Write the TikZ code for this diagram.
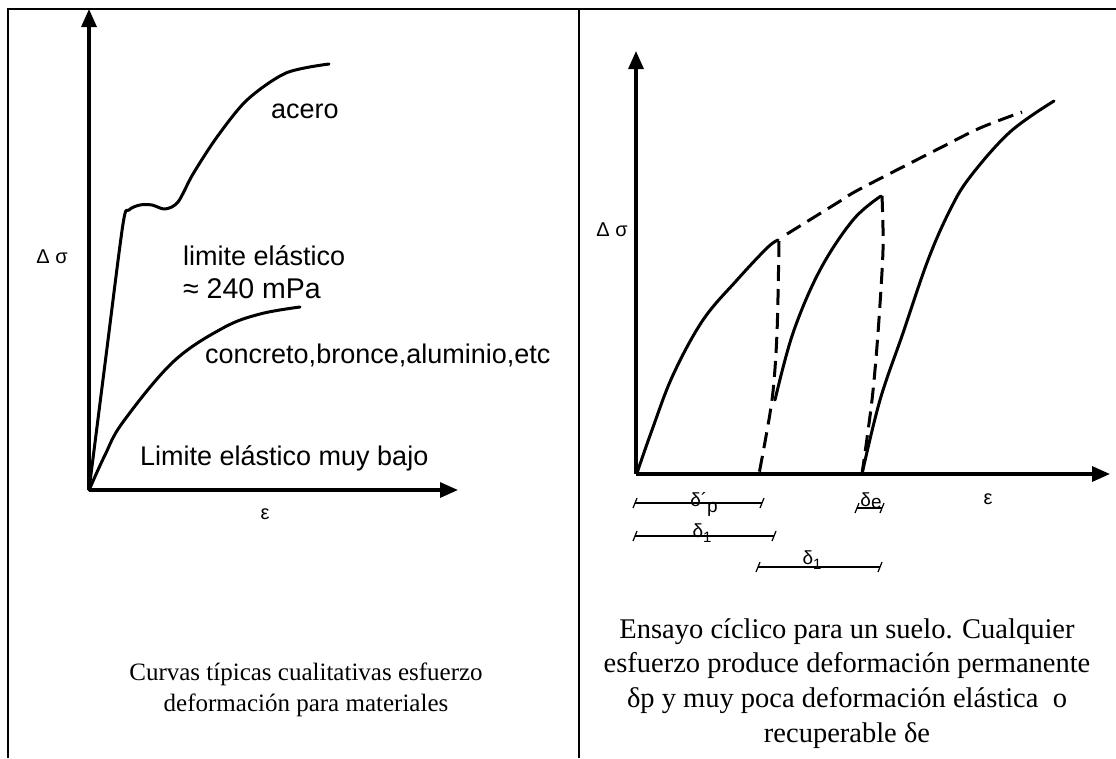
\documentclass[tikz,border=0pt]{standalone}
\usepackage{fontspec}
\setmainfont{Liberation Serif}
\newfontfamily\sansf{Liberation Sans}
\usetikzlibrary{arrows.meta}
\begin{document}
\begin{tikzpicture}[x=1pt,y=-1pt,
  framelines/.style={line width=1.3pt},
  axisarrow/.style={line width=3.2pt,-{Triangle[length=18pt,width=15pt]}},
  solidcurve/.style={line width=3pt,line join=round,line cap=round},
  dashcurve/.style={line width=3pt,dash pattern=on 16pt off 8pt},
  lbl/.style={font=\sansf\fontsize{27}{30}\selectfont,inner sep=0pt},
  biglbl/.style={font=\sansf\fontsize{28.5}{30}\selectfont,inner sep=0pt},
  smalltxt/.style={font=\sansf\fontsize{20}{22}\selectfont,inner sep=0pt},
  dimtxt/.style={font=\sansf\fontsize{19}{20}\selectfont,inner sep=0pt},
  dimline/.style={line width=1.2pt},
  captxt/.style={font=\fontsize{28.5}{34.5}\selectfont,inner sep=0pt,anchor=base},
  captxtL/.style={font=\fontsize{25}{30}\selectfont,inner sep=0pt,anchor=base},
  endtick/.pic={\draw[line width=1.2pt] (-2,5) -- (2,-5);}
]
\useasboundingbox (0,0) rectangle (1116,758);
% frame
\coordinate (tl) at (8,9);
\coordinate (tr) at (1116,9);
\coordinate (bl) at (8,758);
\coordinate (dt) at (579,9);
\coordinate (db) at (579,758);
\draw[framelines] (bl) -- (tl) -- (tr);
\draw[framelines] (dt) -- (db);

% ===== left graph =====
\coordinate (O1) at (89,490);
\coordinate (Y1) at (89,9);
\coordinate (X1) at (458,490);
\draw[axisarrow] (O1) -- (Y1);
\draw[axisarrow] (O1) -- (X1);
% steel
\draw[solidcurve] plot[smooth,tension=0.5] coordinates {(89,490) (106,356) (123,224) (129,210) (140,205) (152,205) (165,209) (178,202) (193,174) (217,137) (247,100) (286,73) (329,64)};
% concrete
\draw[solidcurve] plot[smooth,tension=0.6] coordinates {(90,488) (105,455) (123,422) (173,362) (223,328) (260,314) (300,307)};

\node[smalltxt] (ds1) at (52,257) {Δ σ};
\node[smalltxt] (eps1) at (265,514) {ε};
\node[lbl,anchor=base west] (acero) at (271,118) {acero};
\node[lbl,anchor=base west] (lim1) at (183,265) {limite elástico};
\node[biglbl,anchor=base west] (lim2) at (183,298) {≈ 240 mPa};
\node[lbl,anchor=base west] (conc) at (205,363) {concreto,bronce,aluminio,etc};
\node[lbl,anchor=base west] (lim3) at (140,465) {Limite elástico muy bajo};

\node[captxtL] (capL1) at (306,680) {Curvas típicas cualitativas esfuerzo};
\node[captxtL] (capL2) at (306,711) {deformación para materiales};

% ===== right graph =====
\coordinate (O2) at (636,474);
\coordinate (Y2) at (636,51);
\coordinate (X2) at (1110,474);
\draw[axisarrow] (O2) -- (Y2);
\draw[axisarrow] (O2) -- (X2);
\draw[solidcurve] plot[smooth,tension=0.6] coordinates {(637,473) (652,430) (673,375) (703,320) (737,280) (767,248) (778,240)};
\draw[dashcurve] plot[smooth] coordinates {(779,241) (777,333) (772,400) (759,474)};
\draw[solidcurve] plot[smooth,tension=0.6] coordinates {(775,400) (793,333) (820,270) (853,220) (881,196)};
\draw[dashcurve] plot[smooth] coordinates {(882,196) (883,250) (878,333) (872,400) (862,474)};
\draw[solidcurve] plot[smooth,tension=0.6] coordinates {(862,474) (880,400) (903,333) (928,260) (950,210) (970,177) (1010,132) (1054,101)};
\draw[dashcurve] plot[smooth] coordinates {(787,234) (837,203) (860,189) (940,148) (980,128) (1022,112)};

\node[smalltxt] (ds2) at (612,230) {Δ σ};
\node[smalltxt] (eps2) at (988,499) {ε};

% dimension lines
\coordinate (a1) at (635,503); \coordinate (a2) at (762,503);
\draw[dimline] (a1) -- (a2);
\pic at (a1) {endtick}; \pic at (a2) {endtick};
\node[dimtxt,anchor=base] (dp) at (704,506) {δ´\raisebox{-6pt}{p}};

\coordinate (b1) at (635,536); \coordinate (b2) at (774,536);
\draw[dimline] (b1) -- (b2);
\pic at (b1) {endtick}; \pic at (b2) {endtick};
\node[dimtxt,anchor=base] (d1a) at (702,537) {δ\raisebox{-5pt}{\fontsize{15}{16}\selectfont 1}};

\coordinate (c1) at (758,567); \coordinate (c2) at (880,567);
\draw[dimline] (c1) -- (c2);
\pic at (c1) {endtick}; \pic at (c2) {endtick};
\node[dimtxt,anchor=base] (d1b) at (812,564) {δ\raisebox{-5pt}{\fontsize{15}{16}\selectfont 1}};

\coordinate (e1) at (857,508); \coordinate (e2) at (882,508);
\draw[dimline] (e1) -- (e2);
\pic at (e1) {endtick}; \pic at (e2) {endtick};
\node[dimtxt,anchor=base] (de) at (871,506) {δ\raisebox{-2pt}{e}};

\node[captxt] (capR1) at (847,638) {Ensayo cíclico para un suelo. Cualquier};
\node[captxt] (capR2) at (847,672) {esfuerzo produce deformación permanente};
\node[captxt] (capR3) at (847,707) {δp y muy poca deformación elástica\ \ o};
\node[captxt] (capR4) at (847,742) {recuperable δe};
\end{tikzpicture}
\end{document}
